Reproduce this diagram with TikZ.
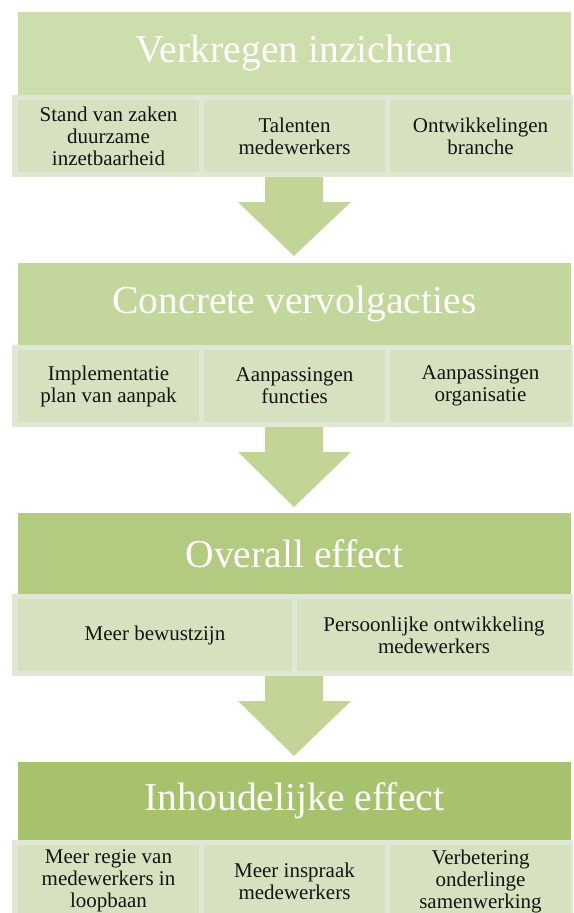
\documentclass[tikz,border=0pt]{standalone}
\usepackage{fontspec}
\setmainfont{Liberation Serif}
\definecolor{hA}{RGB}{205,221,172}
\definecolor{hB}{RGB}{195,214,155}
\definecolor{hC}{RGB}{179,203,129}
\definecolor{hD}{RGB}{167,194,108}
\definecolor{rowout}{RGB}{224,232,213}
\definecolor{rowin}{RGB}{214,225,192}
\definecolor{arrowc}{RGB}{194,213,150}
\definecolor{txt}{RGB}{20,20,20}
\tikzset{
  hdr/.style={fill=#1, inner sep=0pt, outer sep=0pt, minimum width=553pt, text=white,
    font=\fontsize{39.6}{42}\selectfont},
  rowbox/.style={fill=rowout, inner sep=0pt, outer sep=0pt, minimum width=561pt, minimum height=82pt},
  cell/.style={fill=rowin, inner sep=0pt, outer sep=0pt, minimum height=72pt, align=center,
    text=txt, font=\fontsize{21}{22}\selectfont},
  cellthree/.style={cell, minimum width=181pt},
  celltwo/.style={cell, minimum width=274pt},
  blockarrow/.style={fill=arrowc, draw=none}
}
\newcommand{\downarrowfrom}[2]{%
  \fill[blockarrow] ([xshift=-29pt]#1.south) -- ([xshift=29pt]#1.south)
    -- ([xshift=29pt,yshift=-25pt]#1.south) -- ([xshift=57pt,yshift=-25pt]#1.south)
    -- ([yshift=1pt]#2.north) -- ([xshift=-56pt,yshift=-25pt]#1.south)
    -- ([xshift=-29pt,yshift=-25pt]#1.south) -- cycle;}
\begin{document}
\begin{tikzpicture}[x=1pt,y=-1pt]
\useasboundingbox (0,0) rectangle (573,913);
\clip (0,0) rectangle (573,913);
\fill[white] (0,0) rectangle (573,913);
% headers
\node[hdr=hA, minimum height=83pt] (h1) at (294.5,53.5) {Verkregen inzichten};
\node[hdr=hB, minimum height=82pt] (h2) at (294.5,304) {Concrete vervolgacties};
\node[hdr=hC, minimum height=81pt] (h3) at (294.5,553.5) {Overall effect};
\node[hdr=hD, minimum height=78pt] (h4) at (294.5,801) {Inhoudelijke effect};
% rows
\node[rowbox] (r1) at (292.5,136) {};
\node[rowbox] (r2) at (292.5,386) {};
\node[rowbox] (r3) at (292.5,635) {};
\node[rowbox] (r4) at (292.5,881) {};
% row 1
\node[cellthree] (c11) at (108.5,136) {Stand van zaken\\duurzame\\inzetbaarheid};
\node[cellthree] (c12) at (294.5,136) {Talenten\\medewerkers};
\node[cellthree] (c13) at (480.5,136) {Ontwikkelingen\\branche};
% row 2
\node[cellthree] (c21) at (108.5,386) {Implementatie\\plan van aanpak};
\node[cellthree] (c22) at (294.5,386) {Aanpassingen\\functies};
\node[cellthree] (c23) at (480.5,386) {Aanpassingen\\organisatie};
% row 3
\node[celltwo] (c31) at (155,635) {Meer bewustzijn};
\node[celltwo] (c32) at (434,635) {Persoonlijke ontwikkeling\\medewerkers};
% row 4
\node[cellthree] (c41) at (108.5,881) {Meer regie van\\medewerkers in\\loopbaan};
\node[cellthree] (c42) at (294.5,881) {Meer inspraak\\medewerkers};
\node[cellthree] (c43) at (480.5,881) {Verbetering\\onderlinge\\samenwerking};
% arrows
\coordinate (a1s) at (294,177);
\coordinate (a1e) at (294,257);
\coordinate (a2s) at (294,427);
\coordinate (a2e) at (294,508);
\coordinate (a3s) at (294,676);
\coordinate (a3e) at (294,757);
\downarrowfrom{a1s}{a1e}
\downarrowfrom{a2s}{a2e}
\downarrowfrom{a3s}{a3e}
\end{tikzpicture}
\end{document}
